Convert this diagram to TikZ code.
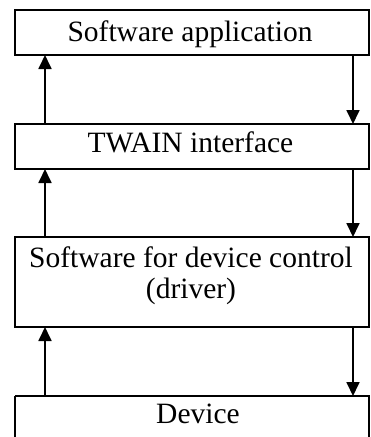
\documentclass[tikz,border=0pt]{standalone}
\usepackage{fontspec}
\setmainfont{Liberation Serif}
\usetikzlibrary{arrows.meta}
\begin{document}
\begin{tikzpicture}[x=1pt,y=-1pt,
  layer/.style={draw,line width=1.6pt},
  lbl/.style={font=\fontsize{29.5}{31}\selectfont,align=center,inner sep=0pt,anchor=base},
  flow/.style={line width=1.8pt,-{Triangle[length=14pt,width=13pt]}}]
\useasboundingbox (0,0) rectangle (370,437);
\draw[layer] (15,10) rectangle (369,55);
\draw[layer] (15,124) rectangle (369,169);
\draw[layer] (15,237) rectangle (369,327);
\draw[layer] (15,396) -- (15,450) (15,396) -- (369,396) -- (369,450);
\node[lbl] (app) at (190,41.5) {Software application};
\node[lbl] (twain) at (190.5,152) {TWAIN interface};
\node[lbl] (drv) at (191,298) {Software for device control\\(driver)};
\node[lbl] (dev) at (198,423) {Device};
\coordinate (a1) at (45,124); \coordinate (a2) at (45,55);
\coordinate (b1) at (353,55); \coordinate (b2) at (353,124);
\coordinate (c1) at (45,237); \coordinate (c2) at (45,169);
\coordinate (d1) at (353,169); \coordinate (d2) at (353,237);
\coordinate (e1) at (45,396); \coordinate (e2) at (45,327);
\coordinate (f1) at (353,327); \coordinate (f2) at (353,396);
\draw[flow] (a1) -- (a2);
\draw[flow] (b1) -- (b2);
\draw[flow] (c1) -- (c2);
\draw[flow] (d1) -- (d2);
\draw[flow] (e1) -- (e2);
\draw[flow] (f1) -- (f2);
\end{tikzpicture}
\end{document}
